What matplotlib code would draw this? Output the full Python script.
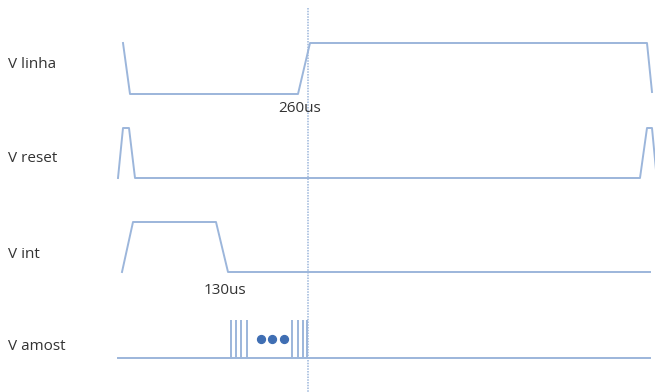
import matplotlib.pyplot as plt

# waveform corners (x in px along the time axis, y in px from the top)
linha_x = [123, 130, 298, 310, 647, 652]
linha_y = [43, 94, 94, 43, 43, 92]
reset_x = [118, 123, 129, 135, 640, 647, 652, 656]
reset_y = [178, 128, 128, 178, 178, 128, 128, 170]
int_x = [122, 133, 216, 228, 650]
int_y = [272, 222, 222, 272, 272]
amost_base_x = [118, 650]
amost_base_y = [358, 358]
pulses_x = [231, 236, 241, 247, 292, 298, 303, 307]
pulse_top, pulse_bottom = 320, 358
dots_x = [261, 272, 284]
dots_y = 339
marker_x = 308

labels = ["V linha", "V reset", "V int", "V amost"]
label_y = [64, 158, 254, 347]

line_color = "#9cb6db"
text_color = "#333333"

fig = plt.figure(figsize=(6.55, 3.92), dpi=100)
ax = fig.add_axes([0, 0, 1, 1])
ax.set_xlim(0, 655)
ax.set_ylim(392, 0)
ax.axis("off")

ax.plot(linha_x, linha_y, color=line_color, lw=1.4)
ax.plot(reset_x, reset_y, color=line_color, lw=1.4)
ax.plot(int_x, int_y, color=line_color, lw=1.4)
ax.plot(amost_base_x, amost_base_y, color=line_color, lw=1.4)
ax.vlines(pulses_x, pulse_top, pulse_bottom, color=line_color, lw=1.4)
ax.scatter(dots_x, [dots_y] * len(dots_x), s=32, color="#3f6eb3", zorder=3)

# 260us reference marker
ax.plot([marker_x, marker_x], [8, 392], color="#9cb6db", lw=1.1, ls=(0, (1, 0.8)))

for name, y in zip(labels, label_y):
    ax.text(8, y, name, color=text_color, fontsize=11, va="center", ha="left",
            family="Open Sans")

ax.text(300, 108, "260us", color=text_color, fontsize=11, va="center",
        ha="center", family="Open Sans")
ax.text(225, 290, "130us", color=text_color, fontsize=11, va="center",
        ha="center", family="Open Sans")

fig.savefig("out.png", dpi=100)
